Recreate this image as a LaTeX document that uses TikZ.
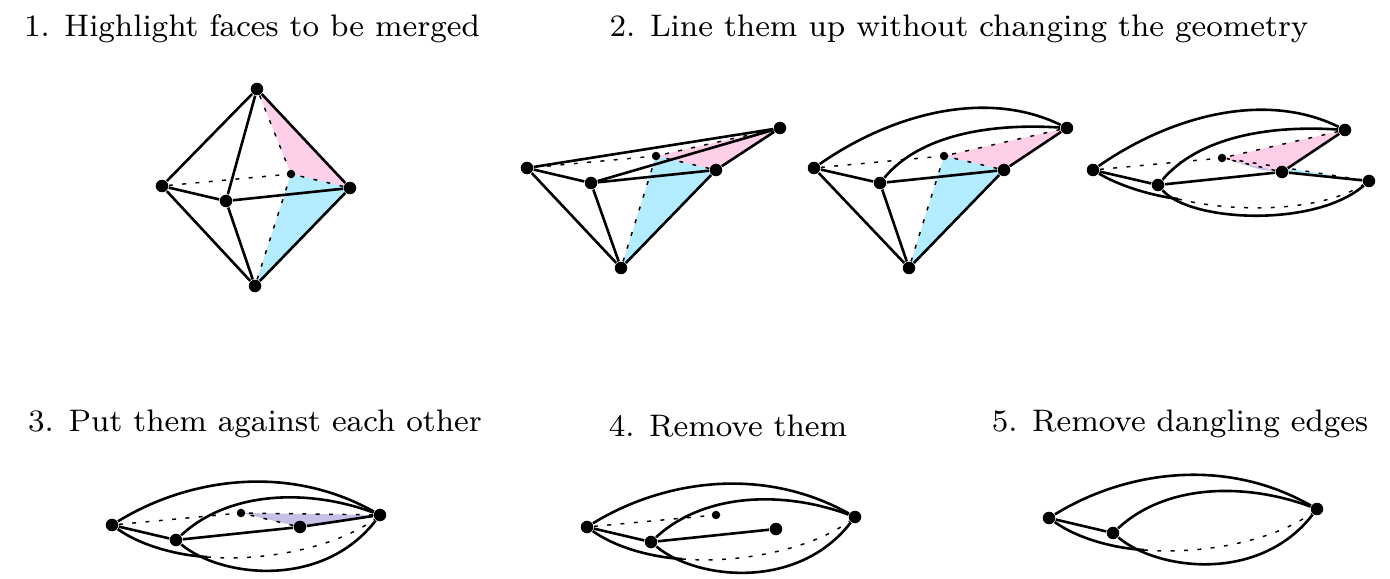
\documentclass[tikz,border=0pt]{standalone}
\usetikzlibrary{backgrounds}
\definecolor{pinkface}{HTML}{FFCFE9}
\definecolor{blueface}{HTML}{B3ECFF}
\definecolor{purpleface}{HTML}{C8C0E6}
\begin{document}
\begin{tikzpicture}[x=0.01cm, y=-0.01cm,
    vtx/.style={circle, fill=black, inner sep=0pt, minimum size=0.125cm},
    backvtx/.style={circle, fill=black, inner sep=0pt, minimum size=0.085cm},
    edge/.style={line width=0.74pt},
    hidden/.style={line width=0.42pt, dash pattern=on 1.1pt off 2.7pt},
    title/.style={inner sep=0pt, anchor=base, scale=1.107, font=\footnotesize}]
  \useasboundingbox (0,0) rectangle (1390,579);

  \node (titleA) [title] at (252,37) {1. Highlight faces to be merged};
  \node (titleB) [title] at (959,37) {2. Line them up without changing the geometry};
  \node (titleC) [title] at (255,432) {3. Put them against each other};
  \node (titleD) [title] at (728,436) {4. Remove them};
  \node (titleE) [title] at (1180,432) {5. Remove dangling edges};

  % step 1
  \node (topA) [vtx] at (257,89) {};
  \node (leftA) [vtx] at (162,186) {};
  \node (frontA) [vtx] at (226,201) {};
  \node (rightA) [vtx] at (350,188) {};
  \node (bottomA) [vtx] at (255,286) {};
  \node (backA) [backvtx] at (291,174) {};
  \begin{scope}[on background layer]
    \fill[pinkface] (topA.center) -- (backA.center) -- (rightA.center) -- cycle;
    \fill[blueface] (backA.center) -- (rightA.center) -- (bottomA.center) -- cycle;
  \end{scope}
  \draw[hidden] (leftA) -- (backA);
  \draw[hidden] (topA) -- (backA);
  \draw[hidden] (rightA) -- (backA);
  \draw[hidden] (bottomA) -- (backA);
  \draw[edge] (topA) -- (leftA);
  \draw[edge] (topA) -- (frontA);
  \draw[edge] (topA) -- (rightA);
  \draw[edge] (leftA) -- (frontA);
  \draw[edge] (frontA) -- (rightA);
  \draw[edge] (leftA) -- (bottomA);
  \draw[edge] (frontA) -- (bottomA);
  \draw[edge] (rightA) -- (bottomA);

  % step 2, straight
  \node (leftB) [vtx] at (527,168) {};
  \node (frontB) [vtx] at (591,183) {};
  \node (rightB) [vtx] at (716,170) {};
  \node (farB) [vtx] at (780,128) {};
  \node (bottomB) [vtx] at (621,268) {};
  \node (backB) [backvtx] at (656,156) {};
  \begin{scope}[on background layer]
    \fill[blueface] (backB.center) -- (rightB.center) -- (bottomB.center) -- cycle;
    \fill[pinkface] (backB.center) -- (farB.center) -- (rightB.center) -- cycle;
  \end{scope}
  \draw[hidden] (leftB) -- (backB);
  \draw[hidden] (farB) -- (backB);
  \draw[hidden] (rightB) -- (backB);
  \draw[hidden] (bottomB) -- (backB);
  \draw[edge] (leftB) -- (farB);
  \draw[edge] (frontB) -- (farB);
  \draw[edge] (leftB) -- (frontB);
  \draw[edge] (frontB) -- (rightB);
  \draw[edge] (rightB) -- (farB);
  \draw[edge] (leftB) -- (bottomB);
  \draw[edge] (frontB) -- (bottomB);
  \draw[edge] (rightB) -- (bottomB);

  % step 2, bent
  \node (leftC) [vtx] at (814,168) {};
  \node (frontC) [vtx] at (880,183) {};
  \node (rightC) [vtx] at (1004,170) {};
  \node (farC) [vtx] at (1067,128) {};
  \node (bottomC) [vtx] at (909,268) {};
  \node (backC) [backvtx] at (944,156) {};
  \begin{scope}[on background layer]
    \fill[blueface] (backC.center) -- (rightC.center) -- (bottomC.center) -- cycle;
    \fill[pinkface] (backC.center) -- (farC.center) -- (rightC.center) -- cycle;
  \end{scope}
  \draw[hidden] (leftC) -- (backC);
  \draw[hidden] (farC) -- (backC);
  \draw[hidden] (rightC) -- (backC);
  \draw[hidden] (bottomC) -- (backC);
  \draw[edge] (leftC) .. controls (890,115) and (985,88) .. (farC);
  \draw[edge] (frontC) .. controls (920,135) and (990,123) .. (farC);
  \draw[edge] (leftC) -- (frontC);
  \draw[edge] (frontC) -- (rightC);
  \draw[edge] (rightC) -- (farC);
  \draw[edge] (leftC) -- (bottomC);
  \draw[edge] (frontC) -- (bottomC);
  \draw[edge] (rightC) -- (bottomC);

  % step 2, flattened
  \node (leftD) [vtx] at (1093,170) {};
  \node (frontD) [vtx] at (1158,185) {};
  \node (midD) [vtx] at (1282,172) {};
  \node (farD) [vtx] at (1345,130) {};
  \node (rightD) [vtx] at (1369,181) {};
  \node (backD) [backvtx] at (1222,158) {};
  \coordinate (joinD) at (1178,199);
  \begin{scope}[on background layer]
    \fill[blueface] (backD.center) -- (rightD.center) -- (midD.center) -- cycle;
    \fill[purpleface] (backD.center) -- (midD.center) -- (1262,170) -- cycle;
    \fill[pinkface] (backD.center) -- (farD.center) -- (midD.center) -- cycle;
  \end{scope}
  \draw[hidden] (leftD) -- (backD);
  \draw[hidden] (farD) -- (backD);
  \draw[hidden] (rightD) -- (backD);
  \draw[hidden] (midD) -- (backD);
  \draw[hidden] (joinD) .. controls (1235,213) and (1320,212) .. (rightD);
  \draw[edge] (leftD) .. controls (1169,117) and (1264,90) .. (farD);
  \draw[edge] (frontD) .. controls (1199,137) and (1269,125) .. (farD);
  \draw[edge] (leftD) -- (frontD);
  \draw[edge] (frontD) -- (midD);
  \draw[edge] (midD) -- (farD);
  \draw[edge] (midD) -- (rightD);
  \draw[edge] (leftD) .. controls (1118,185) and (1148,195) .. (joinD);
  \draw[edge] (frontD) .. controls (1190,222) and (1315,228) .. (rightD);

  % step 3
  \node (leftE) [vtx] at (112,525) {};
  \node (frontE) [vtx] at (176,540) {};
  \node (midE) [vtx] at (300,527) {};
  \node (farE) [vtx] at (380,515) {};
  \node (backE) [backvtx] at (241,513) {};
  \coordinate (joinE) at (207,557);
  \begin{scope}[on background layer]
    \fill[purpleface] (backE.center) -- (farE.center) -- (midE.center) -- cycle;
  \end{scope}
  \draw[hidden] (leftE) -- (backE);
  \draw[hidden] (farE) -- (backE);
  \draw[hidden] (midE) -- (backE);
  \draw[hidden] (joinE) .. controls (270,562) and (340,545) .. (farE);
  \draw[edge] (leftE) .. controls (185,480) and (285,462) .. (farE);
  \draw[edge] (frontE) .. controls (230,490) and (310,489) .. (farE);
  \draw[edge] (leftE) -- (frontE);
  \draw[edge] (frontE) -- (midE);
  \draw[edge] (midE) -- (farE);
  \draw[edge] (leftE) .. controls (140,545) and (175,555) .. (joinE);
  \draw[edge] (frontE) .. controls (220,577) and (322,590) .. (farE);

  % step 4
  \node (leftF) [vtx] at (587,527) {};
  \node (frontF) [vtx] at (651,542) {};
  \node (midF) [vtx] at (776,529) {};
  \node (farF) [vtx] at (855,517) {};
  \node (backF) [backvtx] at (716,515) {};
  \coordinate (joinF) at (682,559);
  \draw[hidden] (leftF) -- (backF);
  \draw[hidden] (joinF) .. controls (745,564) and (815,547) .. (farF);
  \draw[edge] (leftF) .. controls (660,482) and (760,464) .. (farF);
  \draw[edge] (frontF) .. controls (705,492) and (785,491) .. (farF);
  \draw[edge] (leftF) -- (frontF);
  \draw[edge] (frontF) -- (midF);
  \draw[edge] (leftF) .. controls (615,547) and (650,557) .. (joinF);
  \draw[edge] (frontF) .. controls (695,579) and (797,592) .. (farF);

  % step 5
  \node (leftG) [vtx] at (1049,518) {};
  \node (frontG) [vtx] at (1113,533) {};
  \node (farG) [vtx] at (1317,509) {};
  \coordinate (joinG) at (1144,550);
  \draw[hidden] (joinG) .. controls (1207,555) and (1277,539) .. (farG);
  \draw[edge] (leftG) .. controls (1122,473) and (1222,455) .. (farG);
  \draw[edge] (frontG) .. controls (1167,483) and (1247,483) .. (farG);
  \draw[edge] (leftG) -- (frontG);
  \draw[edge] (leftG) .. controls (1077,538) and (1112,548) .. (joinG);
  \draw[edge] (frontG) .. controls (1157,570) and (1259,584) .. (farG);
\end{tikzpicture}
\end{document}
